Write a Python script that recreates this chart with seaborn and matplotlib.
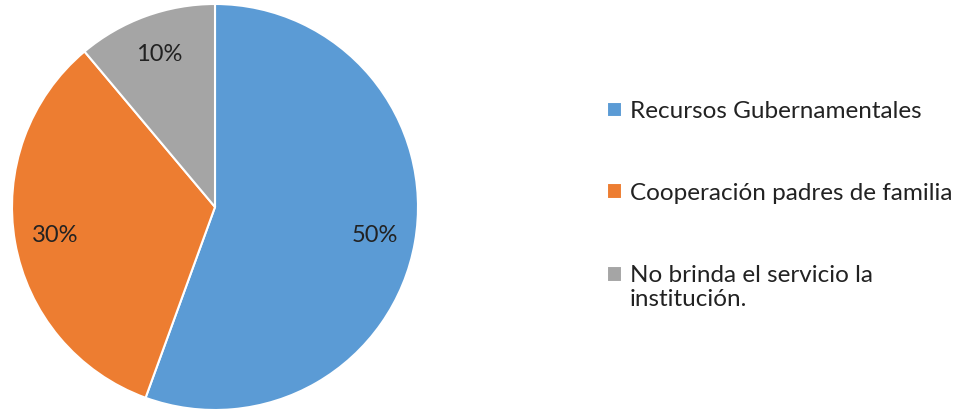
import matplotlib
matplotlib.use("Agg")
import matplotlib.pyplot as plt
import seaborn as sns

sns.set_theme(style="white")
plt.rcParams['font.family'] = ['Lato', 'DejaVu Sans']

categories = ['Recursos Gubernamentales', 'Cooperación padres de familia',
              'No brinda el servicio la\ninstitución.']
values = [50, 30, 10]
colors = ['#5B9BD5', '#ED7D31', '#A5A5A5']
total = sum(values)

fig = plt.figure(figsize=(9.67, 4.12), dpi=100)
ax = fig.add_axes([12/967, 2/412, 406/967, 406/412])

wedges, texts, autotexts = ax.pie(
    values, colors=colors, startangle=90, counterclock=False,
    autopct=lambda p: f"{p*total/100:.0f}%", pctdistance=0.8,
    wedgeprops=dict(edgecolor='white', linewidth=1.5),
    textprops=dict(fontsize=17, color='#222222'))
ax.set_xlim(-1, 1)
ax.set_ylim(-1, 1)
ax.set_aspect('equal')

leg = fig.legend(wedges, categories, loc='upper left', bbox_to_anchor=(607/967, 1-101/412),
                 frameon=False, fontsize=17.5, handlelength=0.6, handleheight=0.6,
                 handletextpad=0.35, labelspacing=2.5, borderpad=0, borderaxespad=0,
                 labelcolor='#222222')
# put the last marker next to the first line of its wrapped label
h = leg.legend_handles[2]
h.set_y(h.get_y() + 9.5)

plt.savefig('out.png', dpi=100)
